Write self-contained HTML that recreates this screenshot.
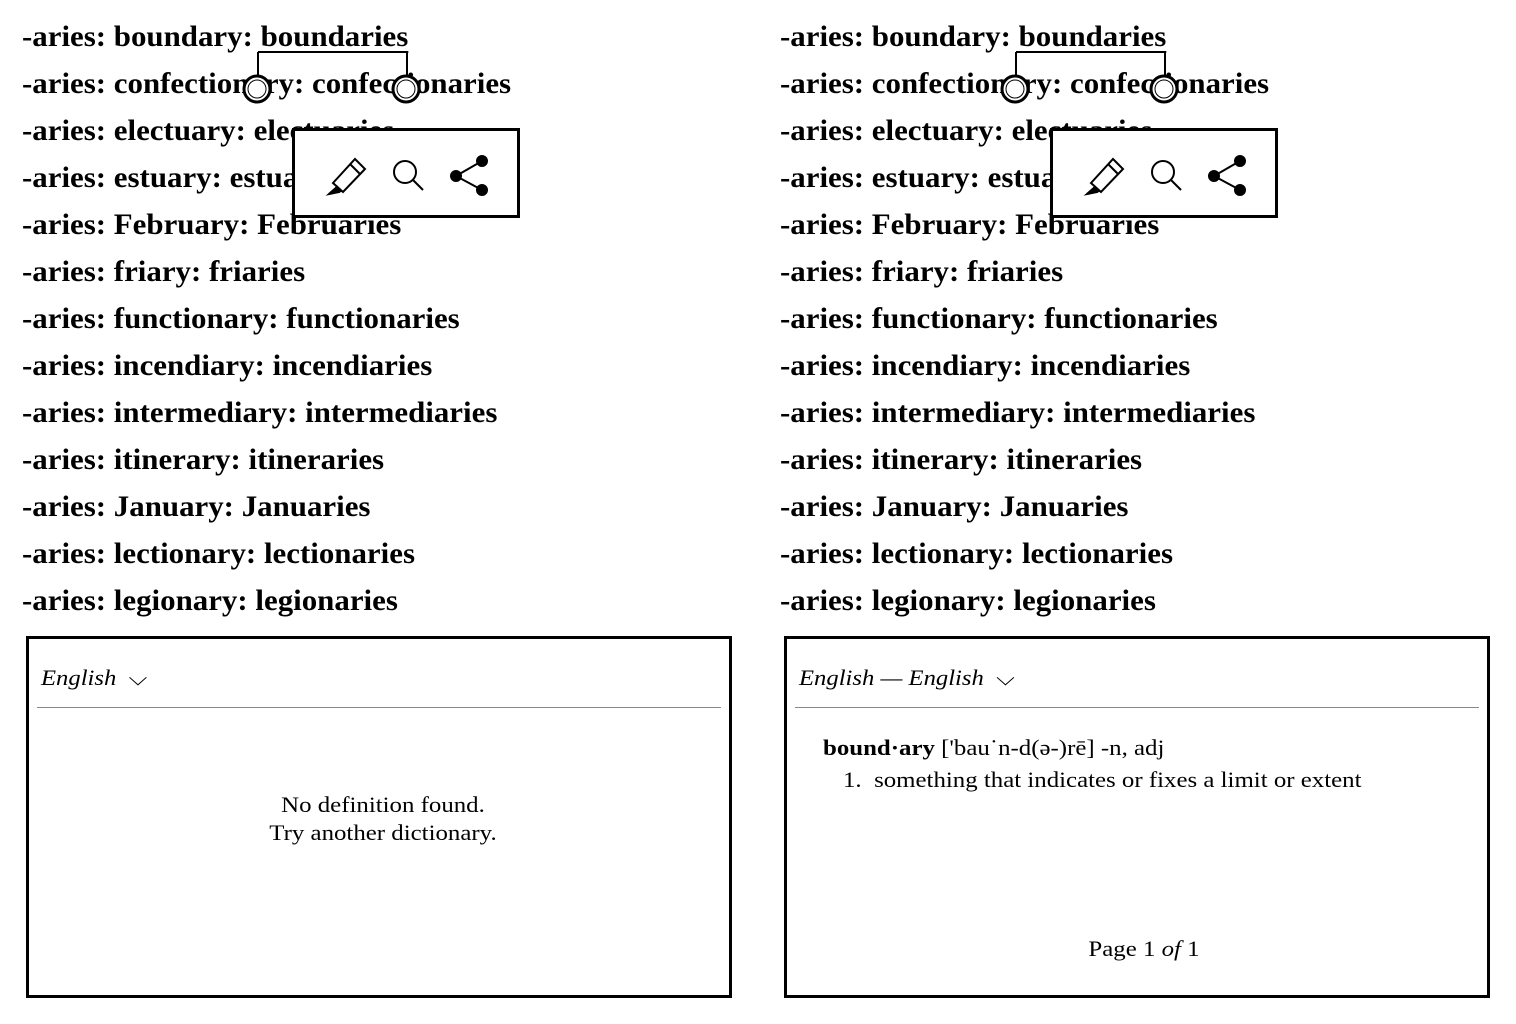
<!DOCTYPE html>
<html><head><meta charset="utf-8"><style>
body{margin:0;width:1516px;height:1024px;background:#fff;position:relative;overflow:hidden;font-family:"Liberation Serif",serif;color:#000}
.p{position:absolute;top:0;width:758px;height:1024px}
.l{position:absolute;left:22px;font-size:30px;font-weight:bold;line-height:47px;white-space:nowrap;transform:scaleX(1.03);transform-origin:left}
.box{position:absolute;left:26px;top:636px;width:700px;height:356px;border:3px solid #000;background:#fff}
.hd{position:absolute;left:12px;top:26px;font-size:22px;font-style:italic;transform:scaleX(1.12);transform-origin:left;white-space:nowrap}
.hr{position:absolute;left:8px;right:8px;top:68px;border-top:1px solid #888}
.pop{position:absolute;left:292px;top:128px;width:222px;height:84px;border:3px solid #000;background:#fff}
.s{font-size:22px;white-space:nowrap;transform:scaleX(1.13);transform-origin:left}
.c{position:absolute;left:0;right:0;text-align:center;font-size:22px;line-height:28px;transform:scaleX(1.13)}
u{text-decoration-thickness:2px;text-underline-offset:5px}
</style></head><body>
<div class="p" style="left:0">
<div class="l" style="top:13px">-aries: boundary: <u>boundaries</u></div>
<div class="l" style="top:60px">-aries: confectionary: confectionaries</div>
<div class="l" style="top:107px">-aries: electuary: electuaries</div>
<div class="l" style="top:154px">-aries: estuary: estuaries</div>
<div class="l" style="top:201px">-aries: February: Februaries</div>
<div class="l" style="top:248px">-aries: friary: friaries</div>
<div class="l" style="top:295px">-aries: functionary: functionaries</div>
<div class="l" style="top:342px">-aries: incendiary: incendiaries</div>
<div class="l" style="top:389px">-aries: intermediary: intermediaries</div>
<div class="l" style="top:436px">-aries: itinerary: itineraries</div>
<div class="l" style="top:483px">-aries: January: Januaries</div>
<div class="l" style="top:530px">-aries: lectionary: lectionaries</div>
<div class="l" style="top:577px">-aries: legionary: legionaries</div>
<svg style="position:absolute;left:0;top:0" width="758" height="240">
<path d="M258 52H407M258 52V76M407 52V76" stroke="#000" stroke-width="2" fill="none"/>
<circle cx="257" cy="89" r="13" fill="#fff" stroke="#000" stroke-width="3"/><circle cx="257" cy="89" r="9" fill="none" stroke="#000" stroke-width="1"/>
<circle cx="406" cy="89" r="13" fill="#fff" stroke="#000" stroke-width="3"/><circle cx="406" cy="89" r="9" fill="none" stroke="#000" stroke-width="1"/>
</svg>
<div class="pop"><svg width="222" height="84">
<g transform="translate(-292,-128)" fill="none" stroke="#000" stroke-width="2">
<path d="M330 180L352 156L362 166L340 189Z M334 184L326 191L336 189Z" /><path d="M326 191L334 184L338 188Z" fill="#000"/><path d="M347 161L357 171"/>
<circle cx="402" cy="169" r="11"/><path d="M410 177L420 187"/>
<path d="M479 158L453 173L479 187"/><circle cx="479" cy="158" r="5" fill="#000"/><circle cx="453" cy="173" r="5" fill="#000"/><circle cx="479" cy="187" r="5" fill="#000"/>
</g></svg></div>
<div class="box"><div class="hd">English&nbsp; <span style="font-style:normal">⌵</span></div><div class="hr"></div>
<div class="c" style="top:152px;left:8px">No definition found.<br>Try another dictionary.</div></div>
</div>
<div class="p" style="left:758px">
<div class="l" style="top:13px">-aries: boundary: <u>boundaries</u></div>
<div class="l" style="top:60px">-aries: confectionary: confectionaries</div>
<div class="l" style="top:107px">-aries: electuary: electuaries</div>
<div class="l" style="top:154px">-aries: estuary: estuaries</div>
<div class="l" style="top:201px">-aries: February: Februaries</div>
<div class="l" style="top:248px">-aries: friary: friaries</div>
<div class="l" style="top:295px">-aries: functionary: functionaries</div>
<div class="l" style="top:342px">-aries: incendiary: incendiaries</div>
<div class="l" style="top:389px">-aries: intermediary: intermediaries</div>
<div class="l" style="top:436px">-aries: itinerary: itineraries</div>
<div class="l" style="top:483px">-aries: January: Januaries</div>
<div class="l" style="top:530px">-aries: lectionary: lectionaries</div>
<div class="l" style="top:577px">-aries: legionary: legionaries</div>
<svg style="position:absolute;left:0;top:0" width="758" height="240">
<path d="M258 52H407M258 52V76M407 52V76" stroke="#000" stroke-width="2" fill="none"/>
<circle cx="257" cy="89" r="13" fill="#fff" stroke="#000" stroke-width="3"/><circle cx="257" cy="89" r="9" fill="none" stroke="#000" stroke-width="1"/>
<circle cx="406" cy="89" r="13" fill="#fff" stroke="#000" stroke-width="3"/><circle cx="406" cy="89" r="9" fill="none" stroke="#000" stroke-width="1"/>
</svg>
<div class="pop"><svg width="222" height="84">
<g transform="translate(-292,-128)" fill="none" stroke="#000" stroke-width="2">
<path d="M330 180L352 156L362 166L340 189Z M334 184L326 191L336 189Z" /><path d="M326 191L334 184L338 188Z" fill="#000"/><path d="M347 161L357 171"/>
<circle cx="402" cy="169" r="11"/><path d="M410 177L420 187"/>
<path d="M479 158L453 173L479 187"/><circle cx="479" cy="158" r="5" fill="#000"/><circle cx="453" cy="173" r="5" fill="#000"/><circle cx="479" cy="187" r="5" fill="#000"/>
</g></svg></div>
<div class="box"><div class="hd">English — English&nbsp; <span style="font-style:normal">⌵</span></div><div class="hr"></div>
<div class="s" style="position:absolute;left:36px;top:96px"><b>bound·ary</b> ['bau˙n-d(ə-)rē] -n, adj</div>
<div class="s" style="position:absolute;left:56px;top:128px">1.&nbsp; something that indicates or fixes a limit or extent</div>
<div class="c" style="top:296px;left:14px">Page 1 <i>of</i> 1</div></div>
</div>
</body></html>
